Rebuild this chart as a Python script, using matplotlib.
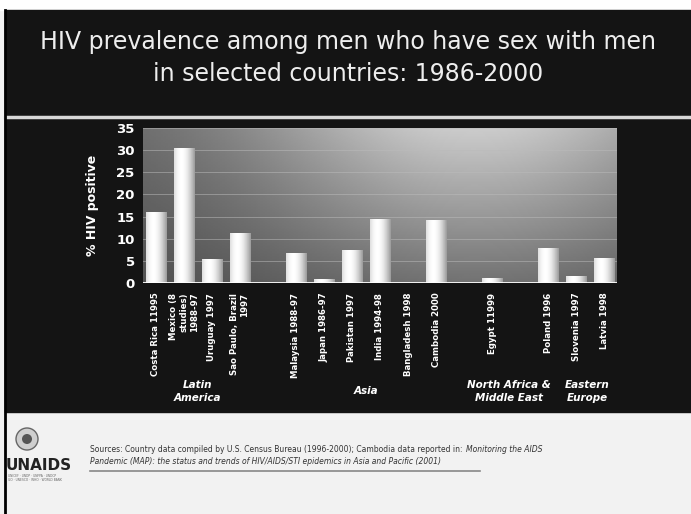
import numpy as np
import matplotlib
matplotlib.use("Agg")
import matplotlib.pyplot as plt
from matplotlib.patches import Rectangle

# data (17 slots, empty strings are gaps between regions)
countries = ['Costa Rica 11995', 'Mexico (8\nstudies)\n1988-97', 'Uruguay 1997',
             'Sao Paulo, Brazil\n1997', '', 'Malaysia 1988-97', 'Japan 1986-97',
             'Pakistan 1997', 'India 1994-98', 'Bangladesh 1998', 'Cambodia 2000',
             '', 'Egypt 11999', '', 'Poland 1996', 'Slovenia 1997', 'Latvia 1998']
values = [16.0, 30.3, 5.3, 11.2, None, 6.7, 0.9, 7.4, 14.4, 0.0, 14.1,
          None, 1.1, None, 7.9, 1.5, 5.5]
regions = ['Latin\nAmerica', 'Asia', 'North Africa &\nMiddle East', 'Eastern\nEurope']
region_pos = [1.5, 7.5, 12.6, 15.4]
yticks = [0, 5, 10, 15, 20, 25, 30, 35]

W, H = 691, 514
fig = plt.figure(figsize=(W / 100, H / 100), dpi=100)
fig.patch.set_facecolor('#f2f2f2')

# slide background (axes in pixel units)
bg = fig.add_axes([0, 0, 1, 1])
bg.set_xlim(0, W)
bg.set_ylim(H, 0)
bg.axis('off')
bg.add_patch(Rectangle((0, 0), W, 10, color='white'))
bg.add_patch(Rectangle((5, 10), W - 5, 402, color='#141414'))
bg.plot([5, W], [117, 117], color='#d8d8d8', lw=2.5)
bg.plot([5, 5], [10, H], color='black', lw=2)
bg.text(348, 58, 'HIV prevalence among men who have sex with men\nin selected countries: 1986-2000',
        color='#eeeeee', fontsize=17, ha='center', va='center', linespacing=1.4)

# footer
src1 = bg.text(90, 449, 'Sources: Country data compiled by U.S. Census Bureau (1996-2000); Cambodia data reported in: ',
               fontsize=5.5, color='#333333', va='center')
fig.canvas.draw()
x_end = src1.get_window_extent().x1  # pixels == bg x units here
bg.text(x_end + 1, 449, 'Monitoring the AIDS', fontsize=5.5, color='#333333', va='center',
        style='italic')
bg.text(90, 461, 'Pandemic (MAP): the status and trends of HIV/AIDS/STI epidemics in Asia and Pacific (2001)',
        fontsize=5.5, color='#333333', va='center', style='italic')
bg.plot([90, 480], [471, 471], color='#888888', lw=1.2)
bg.add_patch(plt.Circle((27, 439), 11, facecolor='#cfcfcf', edgecolor='#666666', lw=1))
bg.add_patch(plt.Circle((27, 439), 5, facecolor='#555555', edgecolor='none'))
bg.text(6, 465, 'UNAIDS', fontsize=11, fontweight='bold', color='#222222', va='center')
bg.text(8, 478, 'UNICEF · UNDP · UNFPA · UNDCP\nILO · UNESCO · WHO · WORLD BANK',
        fontsize=2.2, color='#666666', va='center')

# chart
ax = fig.add_axes([143 / W, 1 - 283 / H, 474 / W, 155 / H])
ax.set_xlim(-0.45, len(countries) - 0.55)
ax.set_ylim(0, 35)
gx = np.linspace(0, 1, 200)
gy = np.linspace(0, 1, 100)
GX, GY = np.meshgrid(gx, gy)
grad = 0.3 + 0.42 * np.exp(-((GX - 0.7) ** 2) / 0.25) * (0.35 + 0.65 * GY) + 0.08 * GY
ax.imshow(grad, extent=[-0.45, len(countries) - 0.55, 0, 35], origin='lower',
          cmap='gray', vmin=0, vmax=1, aspect='auto', zorder=0)
for t in yticks[1:]:
    ax.axhline(t, color='#bbbbbb', lw=0.6, alpha=0.6, zorder=1)

bw = 0.72
shade = np.linspace(-1, 1, 40)
cyl = 0.55 + 0.45 * np.cos(np.clip(shade + 0.3, -1.5, 1.5) * 1.1)
cyl = np.tile(cyl, (10, 1))
for i, v in enumerate(values):
    if v is None or v <= 0:
        continue
    ax.imshow(cyl, extent=[i - bw / 2, i + bw / 2, 0, v], cmap='gray', vmin=0, vmax=1,
              aspect='auto', zorder=2)
ax.axhline(0, color='white', lw=2, zorder=3)

ax.set_xticks(range(len(countries)))
ax.set_xticklabels(countries, rotation=90, fontsize=6.2, fontweight='bold',
                   color='white', va='top', ha='center', multialignment='right')
ax.set_yticks(yticks)
ax.tick_params(axis='y', colors='white', labelsize=9.5, length=0, pad=6)
ax.tick_params(axis='x', length=0, pad=7)
for lab in ax.get_yticklabels():
    lab.set_fontweight('bold')
for s in ax.spines.values():
    s.set_visible(False)
ax.set_ylabel('% HIV positive', color='white', fontsize=9, fontweight='bold', labelpad=12)

for r, p in zip(regions, region_pos):
    ax.text(p, -24.5, r, color='white', fontsize=7.5, fontweight='bold', style='italic',
            ha='center', va='center', linespacing=1.3)

fig.savefig('out.png', dpi=100, facecolor=fig.get_facecolor())
